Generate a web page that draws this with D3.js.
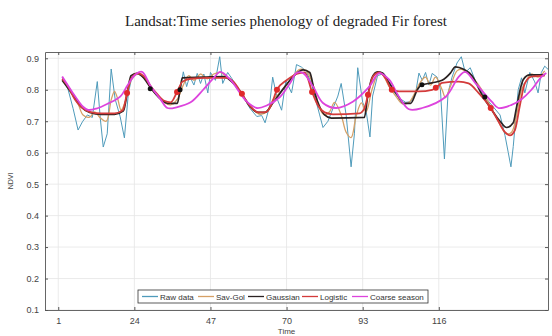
<!DOCTYPE html>
<html>
<head>
<meta charset="utf-8">
<script src="https://cdn.jsdelivr.net/npm/d3@7"></script>
<style>
  body { margin: 0; background: #fff; }
  svg { display: block; font-family: "Liberation Sans", Arial, sans-serif; }
</style>
</head>
<body>
<div id="chart"></div>
<script>
// Time axis ticks
const xTicks = [1, 24, 47, 70, 93, 116];
const yTicks = [0.1, 0.2, 0.3, 0.4, 0.5, 0.6, 0.7, 0.8, 0.9];

// Raw data (vertices of the jagged line)
const rawT = [2.2, 4, 5.5, 7, 8.3, 9.8, 11.3, 12.8, 13.7, 14.6, 15.8, 17, 18.2, 19.7, 21, 22.2, 23.4, 25,
  27, 29, 32, 34, 36, 37.5, 38.8, 39.8, 40.7, 42, 43, 44, 45, 46.2, 47, 48.5, 49.8, 50.7, 52.2, 53.5,
  55, 57, 59, 61, 62.5, 63.5, 64.8, 65.8, 67.2, 68.5, 69.8, 71.5, 73, 74.5, 76, 77.5,
  79, 80, 81, 82.5, 84, 85.5, 86.5, 88, 89.5, 90.5, 91.5, 93, 94, 95.2, 96, 97.5, 99,
  101, 103, 104.5, 106, 107.5, 109, 110, 111, 112, 113, 114, 115.5, 116.5, 117.7, 118.8, 120, 121.5, 122.8, 124, 125.5, 127,
  128.5, 130.5, 132.5, 134.5, 136, 137, 137.8, 138.5, 140, 141, 142, 143.5, 145, 146, 147, 148, 149];
const rawV = [0.84, 0.80, 0.74, 0.672, 0.698, 0.72, 0.712, 0.826, 0.71, 0.618, 0.66, 0.866, 0.77, 0.715, 0.647, 0.79, 0.847, 0.85,
  0.838, 0.81, 0.77, 0.757, 0.755, 0.778, 0.857, 0.81, 0.843, 0.815, 0.852, 0.82, 0.85, 0.79, 0.855, 0.83, 0.905, 0.82, 0.855, 0.835,
  0.81, 0.775, 0.74, 0.715, 0.718, 0.695, 0.745, 0.84, 0.77, 0.735, 0.83, 0.79, 0.88, 0.872, 0.858, 0.82,
  0.76, 0.72, 0.68, 0.70, 0.74, 0.78, 0.82, 0.72, 0.555, 0.66, 0.87, 0.76, 0.735, 0.65, 0.78, 0.845, 0.85,
  0.822, 0.785, 0.77, 0.76, 0.762, 0.79, 0.853, 0.83, 0.855, 0.815, 0.852, 0.84, 0.80, 0.58, 0.79, 0.84, 0.885, 0.905, 0.855, 0.87, 0.83,
  0.80, 0.77, 0.745, 0.72, 0.655, 0.60, 0.555, 0.62, 0.80, 0.838, 0.79, 0.855, 0.825, 0.79, 0.855, 0.875, 0.865];

// Savitzky-Golay fit
const savT = [2.2, 5, 7, 8.5, 10.5, 12, 13.5, 15.5, 17, 18, 19, 20, 21.5, 23, 25, 27, 29, 31, 33, 35, 37,
  39, 40.5, 42, 44, 46, 48, 50, 52, 54, 56, 58, 60, 62, 64, 66, 68, 70, 72, 74, 76, 78.5,
  80, 81.5, 83, 84.5, 86.5, 88, 89.5, 91, 92.6, 94, 95.8, 97.8, 99,
  101, 103, 105, 107, 109, 110.5, 112, 113.5, 115, 117, 118, 119.5, 121.5, 123, 125, 127, 129,
  131, 133, 135, 136.5, 138, 139.5, 141, 142.5, 144, 146, 148];
const savV = [0.835, 0.79, 0.755, 0.72, 0.713, 0.73, 0.713, 0.70, 0.768, 0.795, 0.77, 0.736, 0.77, 0.83, 0.85, 0.838, 0.805, 0.78, 0.76, 0.752, 0.77,
  0.82, 0.845, 0.83, 0.85, 0.835, 0.85, 0.855, 0.84, 0.82, 0.795, 0.76, 0.735, 0.722, 0.73, 0.77, 0.79, 0.815, 0.845, 0.865, 0.86, 0.80,
  0.74, 0.72, 0.73, 0.76, 0.72, 0.665, 0.648, 0.715, 0.758, 0.73, 0.80, 0.853, 0.848,
  0.81, 0.78, 0.755, 0.76, 0.795, 0.825, 0.84, 0.815, 0.84, 0.80, 0.775, 0.81, 0.86, 0.865, 0.85, 0.83, 0.80,
  0.76, 0.72, 0.68, 0.66, 0.665, 0.72, 0.80, 0.83, 0.85, 0.84, 0.86];

// Gaussian fit
const gaussT = [2.2, 5, 8, 10.5, 14, 18, 20.7, 22, 23, 25, 27, 29, 32, 34, 37, 37.8, 38.5, 45,
  51, 54, 57, 59, 61.5, 63.5, 66, 69.5, 72.5, 75, 77, 78.5, 80, 81.5, 83.5, 93.5, 94.5, 95.8, 97.5, 99,
  101, 103.5, 105.5, 107.5, 109.5, 110.8, 114, 117, 119.5, 121, 123.5, 126, 129, 132, 134.5, 136.5, 138.5, 139.5, 141.5, 143.5, 148];
const gaussV = [0.83, 0.79, 0.745, 0.728, 0.722, 0.722, 0.733, 0.80, 0.845, 0.852, 0.835, 0.805, 0.77, 0.757, 0.757, 0.80, 0.838, 0.84,
  0.842, 0.82, 0.778, 0.746, 0.728, 0.728, 0.76, 0.81, 0.847, 0.863, 0.855, 0.79, 0.746, 0.72, 0.71, 0.712, 0.778, 0.838, 0.857, 0.853,
  0.822, 0.783, 0.757, 0.757, 0.80, 0.815, 0.822, 0.83, 0.853, 0.873, 0.865, 0.845, 0.785, 0.736, 0.70, 0.68, 0.695, 0.745, 0.832, 0.847, 0.847];

// Logistic fit
const logT = [2.2, 4, 6, 8, 10.5, 14, 18, 20.5, 21.8, 23, 25, 27, 29, 31, 33, 35, 36.9, 38.5, 41, 46, 52,
  54, 56.5, 59, 61.5, 64, 65.5, 67.1, 70, 73, 75.5, 77.7, 79.5, 81.5, 84, 92, 93.5, 94.6, 96, 98, 100,
  101.8, 104, 110, 114, 115.1, 117, 122, 125, 128, 131.7, 134, 136, 137.5, 139, 140.5, 142, 144, 148];
const logV = [0.835, 0.81, 0.77, 0.745, 0.73, 0.725, 0.725, 0.735, 0.79, 0.835, 0.852, 0.842, 0.81, 0.785, 0.765, 0.76, 0.793, 0.825, 0.835, 0.838, 0.838,
  0.825, 0.787, 0.748, 0.728, 0.73, 0.755, 0.80, 0.83, 0.85, 0.855, 0.793, 0.75, 0.728, 0.722, 0.725, 0.74, 0.784, 0.84, 0.855, 0.835,
  0.80, 0.795, 0.795, 0.80, 0.806, 0.822, 0.826, 0.82, 0.79, 0.742, 0.70, 0.665, 0.655, 0.672, 0.75, 0.82, 0.842, 0.845];

// Coarse season
const coarseT = [2.2, 5.4, 8.5, 10, 12.5, 16, 19.7, 22, 24.2, 26.3, 29, 32, 34, 37, 41, 44.8, 48, 50, 53,
  58, 61, 64, 68, 71, 73, 75, 78, 81, 85, 90, 95, 98, 101, 104, 107, 111, 118, 122, 124, 127,
  132, 134, 138, 141, 144, 147, 148.5];
const coarseV = [0.842, 0.79, 0.746, 0.736, 0.74, 0.756, 0.778, 0.815, 0.847, 0.857, 0.81, 0.768, 0.742, 0.745, 0.76, 0.80, 0.838, 0.857, 0.832,
  0.762, 0.742, 0.75, 0.777, 0.82, 0.853, 0.853, 0.81, 0.758, 0.742, 0.762, 0.81, 0.853, 0.832, 0.777, 0.738, 0.742, 0.777, 0.841, 0.857, 0.822,
  0.762, 0.742, 0.752, 0.77, 0.80, 0.841, 0.853];

// Season markers
const logMarkT = [21.8, 36.9, 56.5, 67.1, 77.7, 94.6, 101.8, 115.1, 131.7];
const logMarkV = [0.79, 0.793, 0.787, 0.80, 0.793, 0.784, 0.80, 0.806, 0.742];
const gaussMarkT = [28.8, 37.8, 110.9, 129.9];
const gaussMarkV = [0.803, 0.80, 0.816, 0.777];

const W = 552, H = 336;
const margin = {left: 45, right: 4, top: 52, bottom: 26};

const svg = d3.select('#chart').append('svg')
  .attr('width', W).attr('height', H);

const x = d3.scaleLinear().domain([-3, 149]).range([margin.left, W - margin.right]);
const y = d3.scaleLinear().domain([0.1, 0.92]).range([H - margin.bottom, margin.top]);

// Grid
svg.append('g').selectAll('line.vg').data(xTicks).join('line')
  .attr('x1', d => x(d)).attr('x2', d => x(d))
  .attr('y1', y.range()[0]).attr('y2', y.range()[1])
  .attr('stroke', '#e4e4e4').attr('stroke-width', 0.8);
svg.append('g').selectAll('line.hg').data(yTicks).join('line')
  .attr('y1', d => y(d)).attr('y2', d => y(d))
  .attr('x1', x.range()[0]).attr('x2', x.range()[1])
  .attr('stroke', '#e4e4e4').attr('stroke-width', 0.8);

// Axes (MATLAB-like inward ticks)
const xAxis = svg.append('g').attr('transform', `translate(0,${y.range()[0]})`)
  .call(d3.axisBottom(x).tickValues(xTicks).tickSize(-3).tickPadding(8).tickSizeOuter(0));
const xTop = svg.append('g').attr('transform', `translate(0,${y.range()[1]})`)
  .call(d3.axisTop(x).tickValues(xTicks).tickSize(-3).tickFormat('').tickSizeOuter(0));
const yAxis = svg.append('g').attr('transform', `translate(${x.range()[0]},0)`)
  .call(d3.axisLeft(y).tickValues(yTicks).tickSize(-3).tickPadding(6).tickFormat(d3.format('.1f')).tickSizeOuter(0));
const yRight = svg.append('g').attr('transform', `translate(${x.range()[1]},0)`)
  .call(d3.axisRight(y).tickValues(yTicks).tickSize(-3).tickFormat('').tickSizeOuter(0));

[xAxis, xTop, yAxis, yRight].forEach(g => {
  g.select('.domain').attr('stroke', '#666');
  g.selectAll('.tick line').attr('stroke', '#555');
  g.selectAll('.tick text').attr('fill', '#444').style('font-size', '9px');
});

// Line series
const series = [
  {name: 'Raw data', t: rawT, v: rawV, color: '#4f9bbb', w: 1, curve: d3.curveLinear},
  {name: 'Sav-Gol', t: savT, v: savV, color: '#d6a066', w: 1.3, curve: d3.curveCatmullRom},
  {name: 'Gaussian', t: gaussT, v: gaussV, color: '#2b2222', w: 1.7, curve: d3.curveMonotoneX},
  {name: 'Logistic', t: logT, v: logV, color: '#d33b3b', w: 1.8, curve: d3.curveMonotoneX},
  {name: 'Coarse season', t: coarseT, v: coarseV, color: '#dd44dd', w: 1.8, curve: d3.curveCatmullRom}
];

const plot = svg.append('g');
series.forEach(s => {
  const pts = s.t.map((t, i) => [t, s.v[i]]);
  plot.append('path')
    .datum(pts)
    .attr('fill', 'none')
    .attr('stroke', s.color)
    .attr('stroke-width', s.w)
    .attr('stroke-linejoin', 'round')
    .attr('d', d3.line().x(d => x(d[0])).y(d => y(d[1])).curve(s.curve));
});

// Markers
plot.selectAll('circle.lm').data(logMarkT.map((t, i) => [t, logMarkV[i]])).join('circle')
  .attr('cx', d => x(d[0])).attr('cy', d => y(d[1])).attr('r', 3)
  .attr('fill', '#e02a2a');
plot.selectAll('circle.gm').data(gaussMarkT.map((t, i) => [t, gaussMarkV[i]])).join('circle')
  .attr('cx', d => x(d[0])).attr('cy', d => y(d[1])).attr('r', 2.5)
  .attr('fill', '#111');

// Titles
svg.append('text')
  .attr('x', 286).attr('y', 26)
  .attr('text-anchor', 'middle')
  .style('font-family', '"Liberation Serif", "Times New Roman", serif')
  .style('font-size', '15px')
  .attr('fill', '#222')
  .text('Landsat:Time series phenology of degraded Fir forest');

svg.append('text')
  .attr('x', x(70)).attr('y', 334)
  .attr('text-anchor', 'middle')
  .style('font-size', '8px').attr('fill', '#444')
  .text('Time');

svg.append('text')
  .attr('transform', `translate(13,${(y.range()[0] + y.range()[1]) / 2}) rotate(-90)`)
  .attr('text-anchor', 'middle')
  .style('font-size', '7px').attr('fill', '#444')
  .text('NDVI');

// Legend
const legend = svg.append('g');
legend.append('rect')
  .attr('x', 138).attr('y', 290).attr('width', 290).attr('height', 13)
  .attr('fill', '#fff').attr('stroke', '#333').attr('stroke-width', 0.8);
const legX = [142, 198, 248, 302, 352];
series.forEach((s, i) => {
  legend.append('line')
    .attr('x1', legX[i]).attr('x2', legX[i] + 16)
    .attr('y1', 296.5).attr('y2', 296.5)
    .attr('stroke', s.color).attr('stroke-width', 1.3);
  legend.append('text')
    .attr('x', legX[i] + 18).attr('y', 299.5)
    .style('font-size', '8px').attr('fill', '#333')
    .text(s.name);
});
</script>
</body>
</html>
